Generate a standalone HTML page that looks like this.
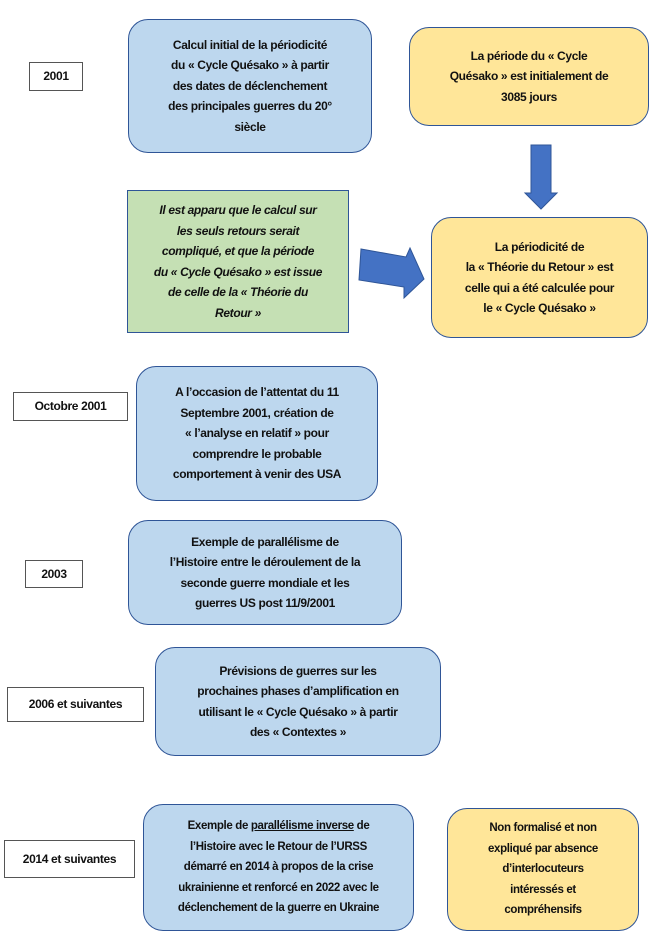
<!DOCTYPE html>
<html><head><meta charset="utf-8"><style>
body{margin:0;width:655px;height:945px;background:#fff;position:relative;overflow:hidden;font-family:"Liberation Sans",sans-serif;}
.b{position:absolute;box-sizing:border-box;display:flex;align-items:center;justify-content:center;text-align:center;font-weight:bold;font-size:12px;letter-spacing:-0.35px;line-height:20.5px;color:#111;white-space:nowrap;}
.blue{background:#bdd7ee;border:1.3px solid #2f5597;border-radius:20px;}
.yel{background:#ffe699;border:1.3px solid #2f5597;border-radius:20px;}
.grn{background:#c5e0b4;border:1.3px solid #2f5597;font-style:italic;}
.lab{background:#fff;border:1px solid #555;}
</style></head><body>
<div class="b lab" style="left:29px;top:62px;width:54px;height:29px">2001</div>
<div class="b blue" style="left:128px;top:19px;width:244px;height:134px"><div>Calcul initial de la périodicité<br>du « Cycle Quésako » à partir<br>des dates de déclenchement<br>des principales guerres du 20°<br>siècle</div></div>
<div class="b yel" style="left:409px;top:27px;width:240px;height:99px"><div>La période du « Cycle<br>Quésako » est initialement de<br>3085 jours</div></div>
<svg style="position:absolute;left:0;top:0" width="655" height="945">
<polygon points="531,145 551,145 551,193 557,193 541,209 525,193 531,193" fill="#4472c4" stroke="#2f5597" stroke-width="1"/>
<polygon points="361,249 406,257 410,248 424,279 404,298 404,287 359,280" fill="#4472c4" stroke="#2f5597" stroke-width="1"/>
</svg>
<div class="b grn" style="left:127px;top:190px;width:222px;height:143px"><div>Il est apparu que le calcul sur<br>les seuls retours serait<br>compliqué, et que la période<br>du « Cycle Quésako » est issue<br>de celle de la « Théorie du<br>Retour »</div></div>
<div class="b yel" style="left:431px;top:217px;width:217px;height:121px"><div>La périodicité de<br>la « Théorie du Retour » est<br>celle qui a été calculée pour<br>le « Cycle Quésako »</div></div>
<div class="b lab" style="left:13px;top:392px;width:115px;height:29px">Octobre 2001</div>
<div class="b blue" style="left:136px;top:366px;width:242px;height:135px"><div>A l’occasion de l’attentat du 11<br>Septembre 2001, création de<br>« l’analyse en relatif » pour<br>comprendre le probable<br>comportement à venir des USA</div></div>
<div class="b lab" style="left:25px;top:560px;width:58px;height:28px">2003</div>
<div class="b blue" style="left:128px;top:520px;width:274px;height:105px"><div>Exemple de parallélisme de<br>l’Histoire entre le déroulement de la<br>seconde guerre mondiale et les<br>guerres US post 11/9/2001</div></div>
<div class="b lab" style="left:7px;top:687px;width:137px;height:35px">2006 et suivantes</div>
<div class="b blue" style="left:155px;top:647px;width:286px;height:109px"><div>Prévisions de guerres sur les<br>prochaines phases d’amplification en<br>utilisant le « Cycle Quésako » à partir<br>des « Contextes »</div></div>
<div class="b lab" style="left:4px;top:840px;width:131px;height:38px">2014 et suivantes</div>
<div class="b blue" style="left:143px;top:804px;width:271px;height:127px;font-size:11.5px"><div>Exemple de <u>parallélisme inverse</u> de<br>l’Histoire avec le Retour de l’URSS<br>démarré en 2014 à propos de la crise<br>ukrainienne et renforcé en 2022 avec le<br>déclenchement de la guerre en Ukraine</div></div>
<div class="b yel" style="left:447px;top:808px;width:192px;height:123px;font-size:11.5px"><div>Non formalisé et non<br>expliqué par absence<br>d’interlocuteurs<br>intéressés et<br>compréhensifs</div></div>
</body></html>
